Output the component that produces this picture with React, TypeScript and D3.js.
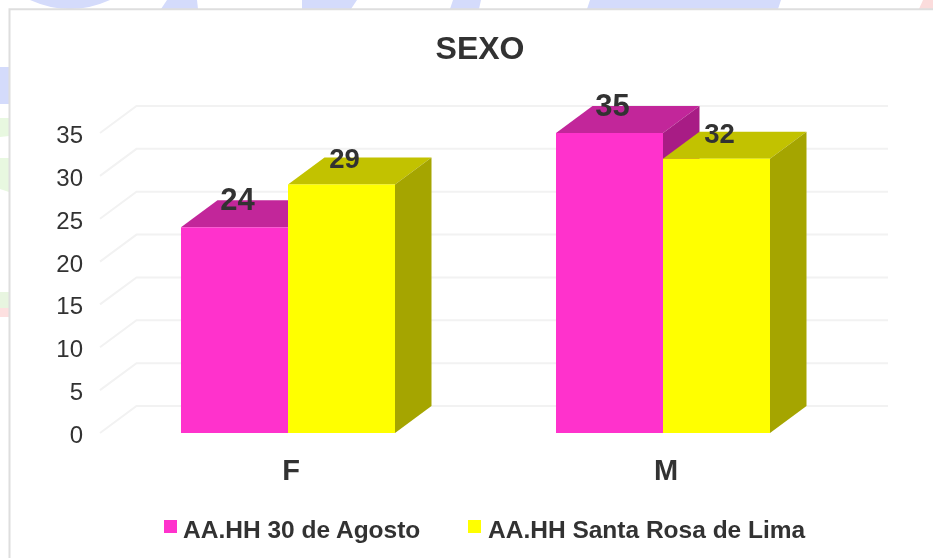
import React from "react";
import * as d3 from "d3";

const categories = ["F", "M"];
const seriesNames = ["AA.HH 30 de Agosto", "AA.HH Santa Rosa de Lima"];
const seriesA = [24, 35];
const seriesB = [29, 32];
const yTicks = [0, 5, 10, 15, 20, 25, 30, 35];

const FONT = "'Liberation Sans', Arial, sans-serif";
const TEXT = "#333333";
const DX = 36.5;
const DY = -27;
const BAR_W = 107;

const styles = [
  { front: "#ff33cc", top: "#c2269a", side: "#a81f85", labelSize: 31, legendX: 164 },
  { front: "#ffff00", top: "#c2c200", side: "#a5a500", labelSize: 27.5, legendX: 468 },
];
const legendTextX = [183, 488];
const decor = [
  { d: "M30,0 Q70,18 110,0 Z", fill: "#d4dbfb" },
  { d: "M167,0 L197,0 L198,9 L161,9 Z", fill: "#d4dbfb" },
  { d: "M302,0 L357,0 L351,9 L302,9 Z", fill: "#d4dbfb" },
  { d: "M453,0 L481,0 L479,9 L450,9 Z", fill: "#d4dbfb" },
  { d: "M590,0 L781,0 L778,9 L587,9 Z", fill: "#d4dbfb" },
  { d: "M923,0 L933,0 L933,9 L919,9 Z", fill: "#fbdcdc" },
  { d: "M0,67 H9 V104 H0 Z", fill: "#d4dbfb" },
  { d: "M0,118 H9 V136 L0,137 Z", fill: "#e8f8e0" },
  { d: "M0,158 H9 V192 L0,189 Z", fill: "#e8f8e0" },
  { d: "M0,292 H9 V308 H0 Z", fill: "#e8f5e0" },
  { d: "M0,308 H9 V317 H0 Z", fill: "#fde0e0" },
];

export default function App() {
  const x = d3.scaleBand<string>().domain(categories).range([100.5, 850.5]);
  const y = d3.scaleLinear().domain([0, 35]).range([433, 133]);
  const series = [seriesA, seriesB];

  return (
    <svg
      width={933}
      height={558}
      style={{ position: "absolute", left: 0, top: 0, background: "#fff" }}
      fontFamily={FONT}
    >
      <defs>
        <filter id="soft" x="-2%" y="-2%" width="104%" height="104%">
          <feGaussianBlur stdDeviation="0.45" />
        </filter>
      </defs>
      <g filter="url(#soft)">
        {decor.map((s, i) => (
          <path key={i} d={s.d} fill={s.fill} />
        ))}
        <path d="M9.5,558 V9.2 H933" fill="none" stroke="#dedede" strokeWidth={2} />

        {yTicks.map((t) => {
          const py = y(t);
          return (
            <g key={t}>
              <path
                d={`M100,${py} L${100 + DX},${py + DY} H888`}
                fill="none"
                stroke="#f2f2f2"
                strokeWidth={2}
              />
              <text x={83} y={py + 10} textAnchor="end" fontSize={24} fill={TEXT}>
                {t}
              </text>
            </g>
          );
        })}

        {categories.map((c, ci) => {
          const center = x(c)! + x.bandwidth() / 2;
          return series.map((vals, si) => {
            const left = center + (si - 1) * BAR_W;
            const right = left + BAR_W;
            const top = y(vals[ci]);
            const base = y(0);
            const st = styles[si];
            return (
              <g key={`${c}-${si}`}>
                <polygon
                  points={`${left},${top} ${left + DX},${top + DY} ${right + DX},${top + DY} ${right},${top}`}
                  fill={st.top}
                />
                <polygon
                  points={`${right},${top} ${right + DX},${top + DY} ${right + DX},${base + DY} ${right},${base}`}
                  fill={st.side}
                />
                <rect x={left} y={top} width={BAR_W} height={base - top} fill={st.front} />
              </g>
            );
          });
        })}

        {categories.map((c, ci) => {
          const center = x(c)! + x.bandwidth() / 2;
          return (
            <g key={c}>
              {series.map((vals, si) => (
                <text
                  key={si}
                  x={center + (si - 1) * BAR_W + BAR_W / 2 + 3}
                  y={y(vals[ci]) - (si === 0 ? 17 : 16)}
                  textAnchor="middle"
                  fontSize={styles[si].labelSize}
                  fontWeight="bold"
                  fill={TEXT}
                >
                  {vals[ci]}
                </text>
              ))}
              <text
                x={center + 3}
                y={480}
                textAnchor="middle"
                fontSize={29}
                fontWeight="bold"
                fill={TEXT}
              >
                {c}
              </text>
            </g>
          );
        })}

        <text x={480} y={59} textAnchor="middle" fontSize={32} fontWeight="bold" fill={TEXT}>
          SEXO
        </text>

        {seriesNames.map((name, i) => (
          <g key={name}>
            <rect x={styles[i].legendX} y={520} width={13} height={13} fill={styles[i].front} />
            <text x={legendTextX[i]} y={538} fontSize={24.5} fontWeight="bold" fill={TEXT}>
              {name}
            </text>
          </g>
        ))}
      </g>
    </svg>
  );
}
